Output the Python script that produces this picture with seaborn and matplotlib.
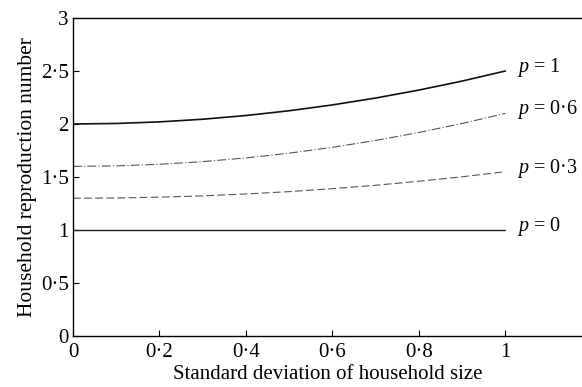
import matplotlib
matplotlib.use("Agg")
import matplotlib.pyplot as plt
import seaborn as sns
import pandas as pd

sigma = [0.0, 0.1, 0.2, 0.3, 0.4, 0.5, 0.6, 0.7, 0.8, 0.9, 1.0]
r_p1 = [2.0, 2.005, 2.02, 2.045, 2.08, 2.125, 2.18, 2.245, 2.32, 2.405, 2.5]
r_p06 = [1.6, 1.605, 1.62, 1.645, 1.68, 1.725, 1.78, 1.845, 1.92, 2.005, 2.1]
r_p03 = [1.3, 1.302, 1.31, 1.322, 1.34, 1.362, 1.39, 1.422, 1.46, 1.502, 1.55]
r_p0 = [1.0] * 11
labels = ["$p$ = 1", "$p$ = 0·6", "$p$ = 0·3", "$p$ = 0"]
xticks = [0, 0.2, 0.4, 0.6, 0.8, 1.0]
xticklabels = ["0", "0·2", "0·4", "0·6", "0·8", "1"]
yticks = [0, 0.5, 1, 1.5, 2, 2.5, 3]
yticklabels = ["0", "0·5", "1", "1·5", "2", "2·5", "3"]

sns.set_theme(style="white")
plt.rcParams["font.family"] = ["Liberation Serif", "DejaVu Serif"]
plt.rcParams["mathtext.fontset"] = "custom"
plt.rcParams["mathtext.it"] = "Liberation Serif:italic"
plt.rcParams["mathtext.rm"] = "Liberation Serif"

fig = plt.figure(figsize=(5.82, 3.87), dpi=100)
ax = fig.add_axes([73 / 582, 51 / 387, 1 - 73 / 582 + 0.002, (336 - 18) / 387])

series = [r_p1, r_p06, r_p03, r_p0]
styles = [("#111111", "-", 1.2), ("#555555", (0, (8, 2, 1, 2)), 0.8),
          ("#555555", (0, (7, 3)), 0.8), ("#222222", "-", 1.0)]
for vals, lab, (c, ls, lw) in zip(series, labels, styles):
    df = pd.DataFrame({"sigma": sigma, "R": vals})
    sns.lineplot(data=df, x="sigma", y="R", ax=ax, color=c, linestyle=ls, linewidth=lw)
    ax.annotate(lab, xy=(1.027, vals[-1]), xytext=(0, 2.5), textcoords="offset points",
                fontsize=14.5, va="center", ha="left", color="black")

ax.set_xlim(0, 1.18)
ax.set_ylim(0, 3)
ax.set_xticks(xticks)
ax.set_xticklabels(xticklabels)
ax.set_yticks(yticks)
ax.set_yticklabels(yticklabels)
ax.tick_params(direction="in", length=4, width=0.8, labelsize=15, colors="black",
               left=True, bottom=True, pad=3)
ax.tick_params(axis="x", pad=5)
ax.set_xlabel("Standard deviation of household size", fontsize=15, color="black", labelpad=2)
ax.set_ylabel("Household reproduction number", fontsize=15.5, color="black", labelpad=3)
for s in ["left", "bottom", "top"]:
    ax.spines[s].set_visible(True)
    ax.spines[s].set_color("black")
    ax.spines[s].set_linewidth(1.0)
ax.spines["right"].set_visible(False)

fig.savefig("out.png", dpi=100)
